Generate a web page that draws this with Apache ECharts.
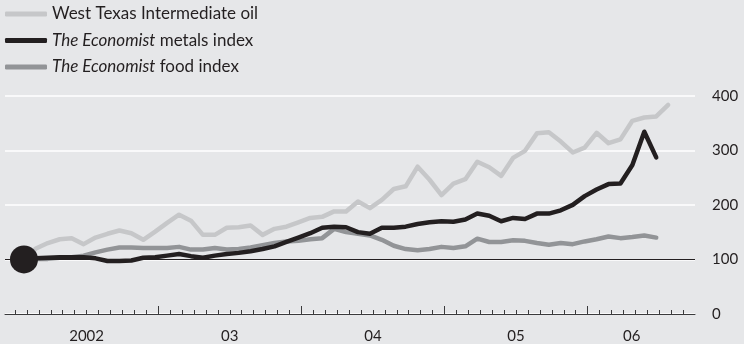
<!DOCTYPE html>
<html>
<head>
<meta charset="utf-8">
<script src="https://cdn.jsdelivr.net/npm/echarts@6/dist/echarts.min.js"></script>
<style>
  html, body { margin: 0; padding: 0; background: #e6e7e9; }
  #chart { width: 744px; height: 344px; }
</style>
</head>
<body>
<div id="chart"></div>
<script>
// Monthly index values, January 2002 = 100
const oil = [100, 120, 130, 137, 139, 128, 140, 147, 153, 148, 136, 151,
             167, 182, 171, 145, 145, 158, 159, 162, 145, 156, 160, 168,
             176, 178, 188, 188, 206, 194, 209, 229, 234, 270, 246, 218,
             239, 247, 279, 269, 253, 286, 299, 331, 333, 316, 296, 305,
             332, 313, 320, 354, 360, 362, 383];
const metals = [100, 102, 103, 104, 104, 104, 102, 97, 97, 98, 103, 104,
                107, 110, 106, 103, 107, 110, 112, 115, 119, 124, 132, 140,
                148, 158, 160, 159, 150, 147, 158, 158, 160, 165, 168, 170,
                169, 173, 184, 180, 170, 176, 174, 184, 184, 190, 200, 216,
                228, 238, 239, 273, 334, 287];
const food = [100, 101, 101, 103, 104, 107, 113, 118, 122, 122, 121, 121,
              121, 123, 118, 118, 121, 118, 119, 122, 126, 130, 133, 134,
              137, 139, 156, 150, 147, 144, 136, 125, 119, 117, 119, 123,
              121, 124, 138, 132, 132, 135, 134, 130, 127, 130, 128, 133,
              137, 142, 139, 141, 144, 140];

const seriesNames = ['West Texas Intermediate oil', 'The Economist metals index', 'The Economist food index'];

// x axis is measured in months from 1 January 2002
const yearLabels = ['2002', '03', '04', '05', '06'];
const yearLabelAt = [6, 18, 30, 42, 51.7];
const yearStarts = [12, 24, 36, 48];
const monthTicks = Array.from({ length: 57 }, (_, m) => m);
const pointOffset = 0.75; // each monthly value sits late in its month

const toPairs = arr => arr.map((v, i) => [i + pointOffset, v]);

const FONT = 'Lato';
const INK = '#231f20';

const chart = echarts.init(document.getElementById('chart'), null, { renderer: 'canvas' });

const xCommon = {
  type: 'value', min: -0.84, max: 57, position: 'bottom',
  splitLine: { show: false }
};

chart.setOption({
  animation: false,
  backgroundColor: '#e6e7e9',
  textStyle: { fontFamily: FONT, color: INK },
  grid: { left: 5, right: 49, top: 95.7, bottom: 29.5, containLabel: false },
  legend: {
    data: seriesNames,
    orient: 'vertical',
    left: 5, top: 5, padding: 0,
    itemWidth: 42, itemHeight: 5, itemGap: 8.5,
    icon: 'roundRect',
    selectedMode: false,
    formatter: name => name.replace('The Economist', '{i|The Economist}'),
    textStyle: {
      fontFamily: FONT, fontSize: 17, color: INK, lineHeight: 18,
      rich: { i: { fontStyle: 'italic', fontFamily: FONT, fontSize: 17, color: INK, lineHeight: 18 } }
    }
  },
  xAxis: [
    Object.assign({}, xCommon, {
      axisLine: { show: true, lineStyle: { color: '#3a3a3c', width: 1 } },
      axisTick: { show: true, inside: true, length: 4, customValues: monthTicks,
                  lineStyle: { color: '#3a3a3c', width: 1 } },
      axisLabel: {
        show: true, customValues: yearLabelAt, margin: 15,
        fontFamily: FONT, fontSize: 15, color: INK,
        formatter: v => yearLabels[yearLabelAt.indexOf(v)] || ''
      }
    }),
    Object.assign({}, xCommon, {
      axisLine: { show: false },
      axisTick: { show: true, inside: true, length: 8, customValues: yearStarts,
                  lineStyle: { color: '#3a3a3c', width: 1 } },
      axisLabel: { show: false }
    })
  ],
  yAxis: {
    type: 'value', position: 'right', min: 0, max: 400, interval: 100,
    axisLine: { show: false }, axisTick: { show: false },
    axisLabel: { margin: 17, fontFamily: FONT, fontSize: 15, color: INK },
    splitLine: { show: true, lineStyle: { color: '#ffffff', width: 1.5 } }
  },
  series: [
    {
      name: seriesNames[0], type: 'line', data: toPairs(oil),
      showSymbol: false, symbol: 'none', z: 2,
      itemStyle: { color: '#c6c7c9' },
      lineStyle: { color: '#c6c7c9', width: 4.5, cap: 'round', join: 'round' },
      markLine: {
        silent: true, symbol: 'none', label: { show: false },
        lineStyle: { color: INK, width: 1, type: 'solid' },
        data: [{ yAxis: 100 }]
      }
    },
    {
      name: seriesNames[2], type: 'line', data: toPairs(food),
      showSymbol: false, symbol: 'none', z: 3,
      itemStyle: { color: '#929497' },
      lineStyle: { color: '#929497', width: 4.5, cap: 'round', join: 'round' }
    },
    {
      name: seriesNames[1], type: 'line', data: toPairs(metals),
      showSymbol: false, symbol: 'none', z: 4,
      itemStyle: { color: INK },
      lineStyle: { color: INK, width: 4.5, cap: 'round', join: 'round' }
    },
    {
      name: 'base', type: 'scatter', z: 5, silent: true,
      data: [[pointOffset, metals[0]]],
      symbolSize: 28,
      itemStyle: { color: INK, opacity: 1 }
    }
  ]
});
</script>
</body>
</html>
